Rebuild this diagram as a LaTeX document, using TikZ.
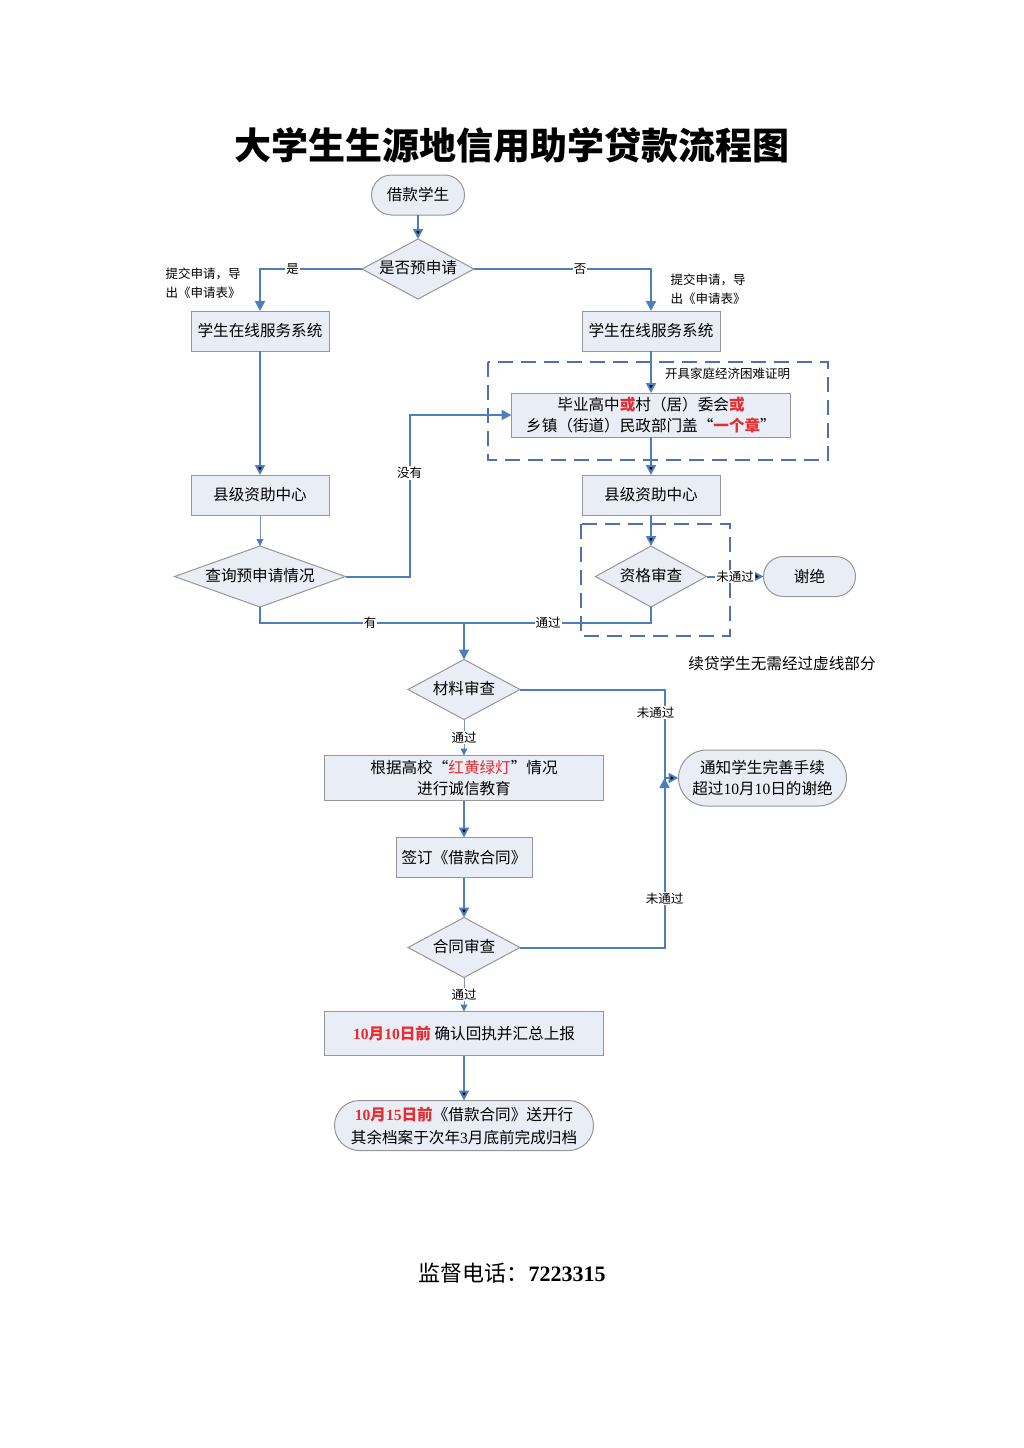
\documentclass[tikz,border=0pt]{standalone}
\usepackage{fontspec}
\setmainfont{Noto Sans CJK SC}
\newfontfamily\serifnum{Liberation Serif}
\usetikzlibrary{shapes,arrows.meta,calc,positioning}
\definecolor{linecol}{RGB}{79,126,189}
\definecolor{thincol}{RGB}{128,150,185}
\definecolor{dashcol}{RGB}{80,112,176}
\definecolor{nodefill}{RGB}{233,238,246}
\definecolor{bordercol}{RGB}{150,150,150}
\definecolor{redtext}{RGB}{230,45,50}
\newcommand{\nodefont}{\fontsize{15.6pt}{21pt}\selectfont}
\newcommand{\labelfont}{\fontsize{12.5pt}{19pt}\selectfont}
\newcommand{\rmnum}[1]{{\serifnum #1}}
\tikzset{
    -{Triangle[width=10pt,length=10pt]},node distance =24pt and 24pt,
    box/.style ={rectangle, draw=bordercol, fill=nodefill, line width=1pt, minimum width=138pt, minimum height=40pt, inner sep=0pt, outer sep=0pt, align=center, font=\nodefont},
    decision/.style ={diamond, draw=bordercol, fill=nodefill, line width=1pt, aspect=1.87, minimum width=112pt, minimum height=60pt, inner sep=0pt, outer sep=0pt, text height=12pt, text depth=3pt, font=\nodefont},
    terminal/.style ={box, rounded corners=20pt, minimum width=93pt},
    flow/.style ={draw=linecol, line width=2pt},
    weak/.style ={draw=thincol, line width=0.9pt, -{Triangle[width=7pt,length=7pt,color=linecol]}},
    dashbox/.style ={draw=dashcol, line width=2.6pt, dash pattern=on 15pt off 8pt, -},
    el/.style = {fill=white, inner sep=1pt, font=\labelfont, text=black}
}
\begin{document}
\begin{tikzpicture}[x=1pt,y=-1pt]
    \useasboundingbox (0,0) rectangle (1024,1448);
    \node[font=\fontsize{37pt}{40pt}\selectfont\bfseries] (title) at (512,145) {大学生生源地信用助学贷款流程图};

    % dashed parts
    \draw[dashbox] (488,362) rectangle (828,460);
    \draw[dashbox] (581,524) rectangle (730,636);

    \node[terminal] (1) at (418,195) {借款学生};
    \node[decision] (2) [below =24pt of 1] {是否预申请};
    \node[box] (3) [below =12pt of 2,xshift=-158pt] {学生在线服务系统};
    \node[box] (4) [below =12pt of 2,xshift=233pt] {学生在线服务系统};
    \node[box,minimum width=279pt,minimum height=44pt] (5) [below =42pt of 4] {毕业高中\textcolor{redtext}{\bfseries 或}村（居）委会\textcolor{redtext}{\bfseries 或}\\乡镇（街道）民政部门盖“\textcolor{redtext}{\bfseries 一个章}”};
    \node[box] (6) [below =124pt of 3] {县级资助中心};
    \node[box] (7) [below =38pt of 5] {县级资助中心};
    \node[decision,minimum width=171pt,minimum height=61pt,aspect=2.8] (8) [below =31pt of 6] {查询预申请情况};
    \node[decision,minimum width=111pt,minimum height=61pt,aspect=1.82] (9) [below =31pt of 7] {资格审查};
    \node[terminal,minimum width=92pt] (10) [right =57pt of 9] {谢绝};
    \node[decision] (11) [below =52.5pt of 8,xshift=204pt] {材料审查};
    \node[box,minimum width=279pt,minimum height=45pt] (13) [below =36pt of 11] {根据高校“\textcolor{redtext}{红黄绿灯}”情况\\进行诚信教育};
    \node[terminal,minimum width=168pt,minimum height=56pt,rounded corners=28pt] (12) [right =75pt of 13] {通知学生完善手续\\超过\rmnum{10}月\rmnum{10}日的谢绝};
    \node[box,minimum width=136pt] (14) [below =37pt of 13] {签订《借款合同》};
    \node[decision] (15) [below =40pt of 14] {合同审查};
    \node[box,minimum width=279pt,minimum height=44pt] (16) [below =34pt of 15] {\textcolor{redtext}{\bfseries\rmnum{10}月\rmnum{10}日前} 确认回执并汇总上报};
    \node[terminal,minimum width=259pt,minimum height=50pt,rounded corners=25pt,font=\fontsize{15.6pt}{23pt}\selectfont] (17) [below =45pt of 16] {\textcolor{redtext}{\bfseries\rmnum{10}月\rmnum{15}日前}《借款合同》送开行\\其余档案于次年\rmnum{3}月底前完成归档};

    \node[font=\labelfont,align=left,anchor=west] (tl) at (162,283) {提交申请，导\\出《申请表》};
    \node[font=\labelfont,align=left,anchor=west] (tr) at (667,289) {提交申请，导\\出《申请表》};
    \node[font=\nodefont] (note) at (782,664) {续贷学生无需经过虚线部分};
    \node[font=\fontsize{22pt}{26pt}\selectfont] (tel) at (512,1273) {监督电话：{\serifnum\bfseries 7223315}};

    \coordinate (m) at ($(11.north)+(0,-37)$);
    \coordinate (c) at ($(12.west)+(-14,0)$);

    \path[flow] (1) edge (2);
    \draw[flow] (2.west) -| node[el,pos=0.34] {是} (3.north);
    \draw[flow] (2.east) -| node[el,pos=0.3] {否} (4.north);
    \path[flow] (3) edge (6);
    \path[flow] (4) edge node[el,fill=none,right=12pt,pos=0.55] {开具家庭经济困难证明} (5);
    \path[flow] (5) edge (7);
    \path[weak] (6) edge (8);
    \draw[flow] (8.east) -- ++(64,0) |- node[el,pos=0.32] {没有} (5.west);
    \path[flow] (7) edge (9);
    \path[flow] (9) edge node[el] {未通过} (10);
    \draw[flow,-] (8.south) |- node[el,pos=0.77] {有} (m);
    \draw[flow,-] (9.south) |- node[el,pos=0.775] {通过} (m);
    \draw[flow] (m) -- (11.north);
    \draw[flow,-] (11.east) -| node[el,pos=0.63,xshift=-9pt] {未通过} (c);
    \draw[flow,-] (15.east) -| node[el,pos=0.645] {未通过} (c);
    \path[flow] (c) edge (12.west);
    \path[weak] (11) edge node[el] {通过} (13);
    \path[flow] (13) edge (14);
    \path[flow] (14) edge (15);
    \path[weak] (15) edge node[el] {通过} (16);
    \path[flow] (16) edge (17);
\end{tikzpicture}
\end{document}
